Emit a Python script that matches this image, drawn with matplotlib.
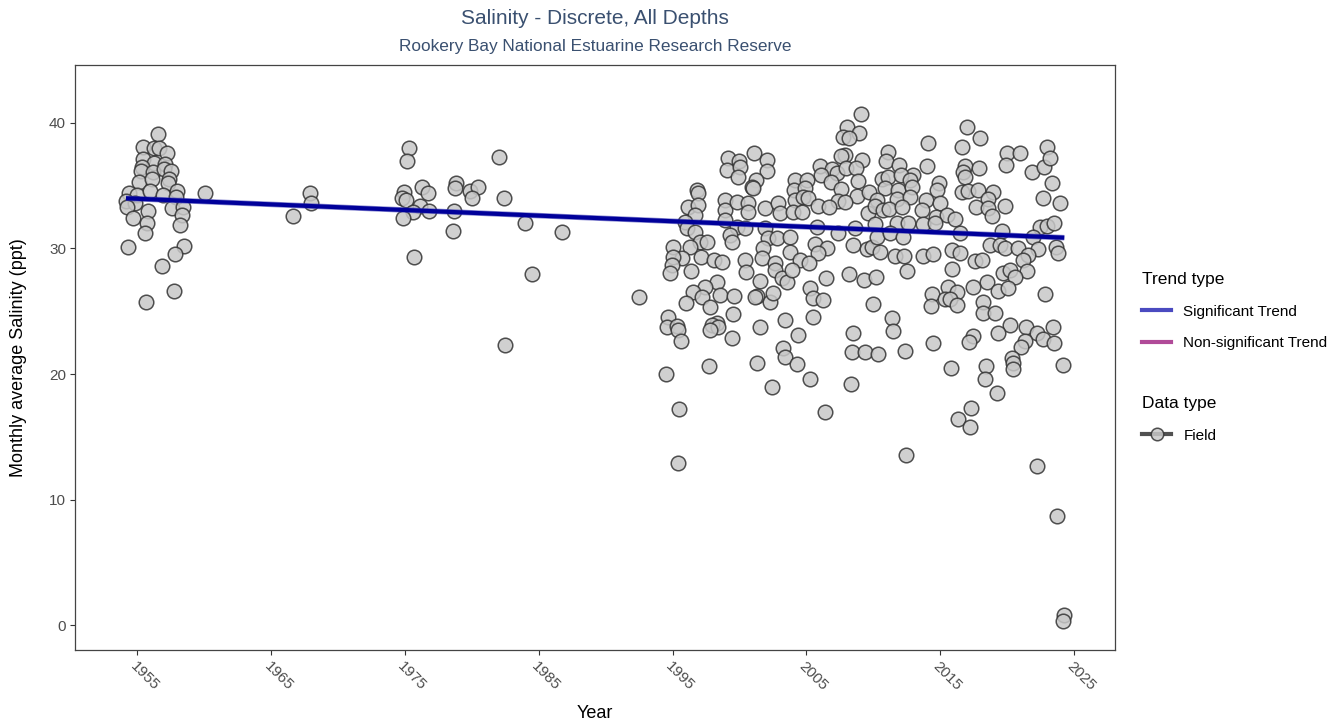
import matplotlib
matplotlib.use("Agg")
import matplotlib.pyplot as plt
from matplotlib.lines import Line2D

plt.rcParams['font.family'] = ['Liberation Sans', 'DejaVu Sans']

# ---------------- data ----------------
early_years = [1956.55, 1955.39, 1956.26, 1956.63, 1957.18, 1955.43, 1956.26, 1957.06, 1955.31, 1955.24,
               1956.14, 1956.98, 1957.48, 1955.13, 1956.06, 1957.38, 1957.30, 1954.34, 1954.99, 1955.93,
               1956.88, 1957.97, 1957.88, 1960.04, 1954.14, 1954.81, 1954.24, 1957.56, 1958.38, 1955.81,
               1958.30, 1954.64, 1955.73, 1958.18, 1955.56, 1954.31, 1958.48, 1957.80, 1956.81, 1957.73,
               1955.64]
early_salinity = [39.1, 38.1, 38.0, 38.0, 37.6, 37.1, 36.8, 36.7, 36.5, 36.2,
                  36.1, 36.3, 36.2, 35.3, 35.5, 35.5, 35.2, 34.4, 34.3, 34.6,
                  34.3, 34.6, 34.1, 34.4, 33.8, 33.6, 33.3, 33.2, 33.3, 33.0,
                  32.7, 32.4, 32.0, 31.9, 31.2, 30.1, 30.2, 29.6, 28.6, 26.6,
                  25.7]

mid_years = [1975.31, 1975.12, 1982.04, 1967.89, 1967.97, 1966.64, 1974.92, 1974.75, 1975.04, 1976.24,
             1976.73, 1976.11, 1975.61, 1976.81, 1974.87, 1978.78, 1978.73, 1979.85, 1980.43, 1979.98,
             1978.68, 1978.58, 1982.40, 1983.96, 1986.70, 1975.67, 1984.46, 1982.47, 1992.46]
mid_salinity = [38.0, 37.0, 37.3, 34.4, 33.6, 32.6, 34.5, 34.0, 33.9, 34.9,
                34.4, 33.4, 32.9, 33.0, 32.4, 35.2, 34.8, 34.6, 34.9, 34.0,
                33.0, 31.4, 34.0, 32.0, 31.3, 29.3, 28.0, 22.3, 26.1]

years_1995_2003 = [1999.11, 1999.98, 2001.10, 2002.07, 1999.08, 2000.03, 1999.91, 2002.03, 2001.21, 2000.91,
                   1996.84, 1996.92, 1996.17, 1996.92, 1996.67, 1995.92, 1996.05, 1996.67, 1997.04, 1997.55,
                   1996.30, 1995.05, 1995.68, 1995.05, 1994.93, 1994.80, 1997.12, 1996.35, 1998.09, 1998.67,
                   1998.29, 1997.42, 1996.50, 1997.17, 1998.54, 1997.79, 1995.98, 1999.61, 1999.53, 1998.29,
                   1997.92, 1998.41, 1997.79, 1994.68, 1994.56, 1995.30, 1995.42, 1995.62, 1999.46, 1997.72,
                   1994.50, 1995.47, 1995.38, 1998.91, 1998.91, 1999.79, 2000.65, 2000.65, 2001.03, 1998.91,
                   1999.79, 2000.41, 1999.29, 1999.41, 2001.90, 2002.90, 2003.02, 2001.90, 2002.15, 2002.78,
                   2001.78, 2001.66, 2002.65, 2002.65, 2000.41, 2000.48, 2001.53, 2003.15, 2003.52, 2001.28,
                   2002.28, 2002.52, 2001.16, 2001.53, 2003.40, 2003.27, 2003.40, 2001.33, 2002.45]
salinity_1995_2003 = [37.19, 37.00, 37.58, 37.05, 36.25, 36.52, 35.72, 36.17, 35.46, 34.88,
                      34.66, 34.40, 33.33, 33.47, 32.67, 32.14, 31.61, 31.34, 30.54, 30.54,
                      30.10, 30.10, 29.22, 29.30, 28.68, 28.07, 29.30, 28.21, 29.08, 28.95,
                      27.35, 26.96, 26.56, 26.16, 26.29, 25.36, 25.68, 26.21, 24.76, 24.04,
                      23.90, 23.72, 23.51, 24.57, 23.77, 23.82, 23.51, 22.65, 22.84, 20.64,
                      20.00, 17.19, 12.93, 33.86, 33.07, 33.73, 33.60, 32.93, 34.80, 32.27,
                      31.74, 31.61, 31.08, 30.54, 33.20, 33.60, 32.80, 31.61, 30.81, 30.81,
                      30.02, 29.22, 28.82, 28.29, 29.08, 28.15, 27.43, 27.63, 27.35, 26.21,
                      25.76, 26.43, 26.11, 23.77, 24.30, 22.05, 21.38, 20.90, 18.99]

years_2003_2013 = [2009.05, 2008.05, 2008.95, 2007.75, 2008.20, 2007.88, 2007.56, 2009.13, 2011.12, 2010.95,
                   2011.94, 2012.99, 2006.01, 2006.89, 2007.26, 2007.96, 2008.70, 2006.07, 2004.14, 2005.06,
                   2006.81, 2008.88, 2010.62, 2011.12, 2012.04, 2012.74, 2004.07, 2004.89, 2007.56, 2010.87,
                   2011.87, 2012.87, 2008.80, 2009.70, 2010.25, 2004.14, 2004.77, 2005.14, 2007.34, 2007.88,
                   2011.79, 2012.74, 2004.02, 2004.65, 2005.89, 2006.71, 2009.58, 2010.12, 2010.74, 2011.19,
                   2012.12, 2005.77, 2007.38, 2008.63, 2010.12, 2011.75, 2012.61, 2003.77, 2005.64, 2006.51,
                   2008.50, 2009.50, 2009.88, 2010.50, 2010.25, 2011.25, 2012.24, 2003.77, 2005.89, 2004.52,
                   2005.21, 2011.62, 2012.29, 2012.54, 2003.90, 2006.46, 2008.20, 2009.30, 2010.20, 2005.27,
                   2005.51, 2006.26, 2010.00, 2005.51, 2011.37, 2011.49, 2004.39, 2008.46, 2004.32, 2008.38,
                   2009.38, 2010.37, 2012.37, 2005.27, 2008.31, 2006.39, 2012.44]
salinity_2003_2013 = [40.72, 39.70, 39.23, 38.86, 38.78, 37.45, 37.37, 37.05, 37.71, 37.00,
                      36.65, 35.86, 36.57, 36.31, 35.99, 36.39, 36.39, 35.86, 35.46, 35.46,
                      35.32, 35.38, 35.51, 35.72, 35.86, 35.46, 34.66, 34.80, 34.72, 34.80,
                      34.66, 34.88, 34.18, 34.53, 33.86, 33.86, 34.08, 34.00, 33.78, 33.73,
                      33.92, 34.13, 32.93, 32.93, 33.39, 33.33, 32.85, 33.39, 33.07, 33.12,
                      33.28, 31.69, 31.26, 31.61, 31.95, 32.01, 32.01, 30.94, 30.36, 30.02,
                      30.28, 29.94, 30.14, 29.74, 30.94, 31.21, 30.94, 29.74, 29.62, 29.08,
                      28.82, 29.40, 29.40, 28.23, 28.29, 27.63, 27.97, 27.49, 27.75, 26.83,
                      26.03, 25.90, 25.58, 24.57, 24.44, 23.45, 23.11, 23.24, 20.77, 21.78,
                      21.73, 21.57, 21.86, 19.60, 19.18, 17.00, 13.55]

years_2013_2025 = [2017.02, 2017.97, 2014.11, 2016.60, 2019.97, 2020.96, 2019.91, 2014.03, 2016.85, 2016.72,
                   2017.92, 2016.85, 2021.84, 2022.75, 2022.96, 2014.93, 2014.78, 2016.60, 2017.10, 2017.84,
                   2018.97, 2018.59, 2013.94, 2014.98, 2013.61, 2017.67, 2018.59, 2018.85, 2019.84, 2022.66,
                   2014.68, 2015.48, 2016.10, 2013.69, 2014.61, 2016.48, 2019.59, 2022.46, 2022.96, 2021.96,
                   2018.72, 2019.47, 2019.84, 2020.83, 2022.33, 2015.86, 2016.48, 2013.73, 2014.48, 2017.60,
                   2018.10, 2021.58, 2021.16, 2015.86, 2019.71, 2020.21, 2021.46, 2020.59, 2018.47, 2017.47,
                   2019.34, 2020.09, 2015.60, 2016.23, 2014.36, 2015.36, 2015.73, 2014.29, 2016.28, 2018.17,
                   2018.22, 2019.09, 2022.83, 2020.21, 2021.41, 2022.25, 2022.66, 2023.41, 2023.50, 2021.33,
                   2021.01, 2019.29, 2017.43, 2017.17, 2014.44, 2015.78, 2018.42, 2018.35, 2020.34, 2020.46,
                   2020.42, 2024.15, 2019.22, 2017.30, 2016.35, 2017.22, 2022.21, 2023.70, 2024.27, 2024.20,
                   2023.20, 2023.33, 2023.95, 2023.50, 2023.65, 2023.82]
salinity_2013_2025 = [39.66, 38.78, 38.38, 38.06, 37.63, 37.58, 36.65, 36.57, 36.57, 36.12,
                      36.39, 35.67, 36.12, 36.47, 38.11, 35.19, 34.66, 34.53, 34.61, 34.66,
                      34.53, 33.92, 33.86, 33.65, 33.07, 33.33, 33.20, 32.59, 33.39, 34.00,
                      32.53, 32.67, 32.33, 31.95, 32.06, 31.26, 31.39, 31.74, 31.79, 30.94,
                      30.28, 30.28, 30.02, 30.02, 29.94, 29.88, 29.62, 29.40, 29.56, 29.03,
                      29.08, 29.48, 29.08, 28.34, 28.07, 28.29, 28.23, 27.70, 27.35, 26.96,
                      26.64, 26.83, 26.91, 26.56, 26.37, 25.95, 25.95, 25.42, 25.50, 25.76,
                      24.84, 24.84, 26.37, 23.90, 23.72, 23.29, 22.76, 23.77, 22.49, 22.65,
                      22.13, 23.24, 23.03, 22.57, 22.49, 20.50, 20.64, 19.58, 21.25, 20.85,
                      20.37, 20.72, 18.46, 17.31, 16.41, 15.75, 12.67, 8.69, 0.80, 0.34,
                      37.19, 35.19, 33.65, 32.06, 30.14, 29.67]

trend_years = [1954.14, 2024.27]
trend_salinity = [34.0, 30.86]

x_ticks = [1955, 1965, 1975, 1985, 1995, 2005, 2015, 2025]
y_ticks = [0, 10, 20, 30, 40]

title = "Salinity - Discrete, All Depths"
subtitle = "Rookery Bay National Estuarine Research Reserve"

# ---------------- figure ----------------
W, H = 1333, 725
fig = plt.figure(figsize=(W / 100, H / 100), dpi=100)
ax = fig.add_axes([75 / W, 1 - 650 / H, (1115 - 75) / W, (650 - 65) / H])

all_years = early_years + mid_years + years_1995_2003 + years_2003_2013 + years_2013_2025
all_sal = early_salinity + mid_salinity + salinity_1995_2003 + salinity_2003_2013 + salinity_2013_2025

ax.scatter(all_years, all_sal, s=110, facecolor='#c8c8c8', edgecolor='#333333',
           linewidths=1.1, alpha=0.85, zorder=2)
ax.plot(trend_years, trend_salinity, color='#3c3cb4', lw=4.0, alpha=0.6, zorder=3,
        solid_capstyle='butt')
ax.plot(trend_years, trend_salinity, color='#00009a', lw=3.0, zorder=4, solid_capstyle='butt')

ax.set_xlim(1950.33, 2028.06)
ax.set_ylim(-1.99, 44.62)
ax.set_xticks(x_ticks)
ax.set_yticks(y_ticks)
ax.set_xticklabels([str(t) for t in x_ticks], rotation=-45, ha='left', va='top',
                   rotation_mode='anchor')
ax.tick_params(axis='both', colors='#333333', labelcolor='#4d4d4d', labelsize=11,
               length=3.5, width=0.8, pad=3)
for sp in ax.spines.values():
    sp.set_color('#444444')
    sp.set_linewidth(0.9)

ax.set_xlabel("Year", fontsize=13)
ax.set_ylabel("Monthly average Salinity (ppt)", fontsize=13)
ax.xaxis.set_label_coords(0.5, (650 - 705) / 585)
ax.yaxis.set_label_coords((27 - 75) / 1040, 0.5)

fig.text(595 / W, 1 - 19 / H, title, ha='center', va='center', fontsize=15, color='#3a5070')
fig.text(595 / W, 1 - 47 / H, subtitle, ha='center', va='center', fontsize=12.4, color='#3a5070')

trend_handles = [Line2D([], [], color='#4a4ac0', lw=3),
                 Line2D([], [], color='#b04a98', lw=3)]
leg1 = fig.legend(trend_handles, ['Significant Trend', 'Non-significant Trend'],
                  title='Trend type', loc='upper left', bbox_to_anchor=(1136 / W, 1 - 266 / H),
                  frameon=False, alignment='left', fontsize=11, title_fontsize=12.5,
                  handlelength=1.9, handletextpad=0.8, labelspacing=1.15, borderaxespad=0)
field_handle = Line2D([], [], color='#333333', lw=3, alpha=0.85, marker='o', markersize=9,
                      markerfacecolor='#c8c8c8', markeredgecolor='#333333', markeredgewidth=1.1)
leg2 = fig.legend([field_handle], ['Field'], title='Data type', loc='upper left',
                  bbox_to_anchor=(1136 / W, 1 - 390 / H), frameon=False, alignment='left',
                  fontsize=11, title_fontsize=12.5, handlelength=1.9, handletextpad=0.8,
                  labelspacing=1.15, borderaxespad=0)

fig.savefig("out.png", dpi=100)
